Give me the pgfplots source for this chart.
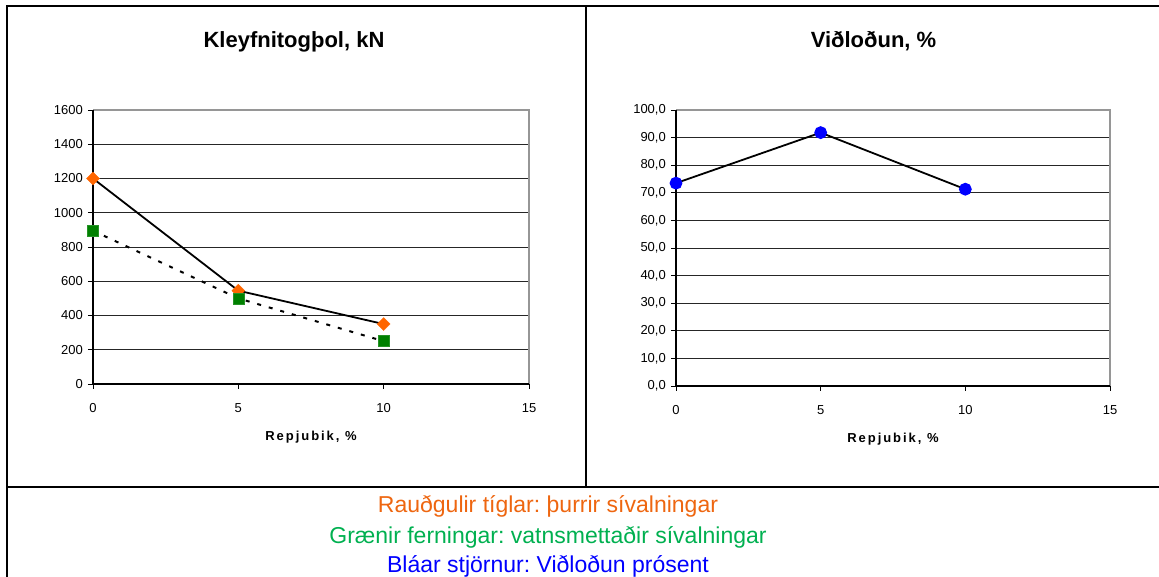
\documentclass[border=0pt]{standalone}
\usepackage{fontspec}
\setmainfont{Liberation Sans}
\newfontfamily\spacedfont[LetterSpace=15]{Liberation Sans}
\usepackage{pgfplots}
\pgfplotsset{compat=1.18}
\frenchspacing

\definecolor{dryorange}{RGB}{255,102,0}
\definecolor{wetgreen}{RGB}{0,128,0}
\definecolor{legorange}{RGB}{238,102,16}
\definecolor{leggreen}{RGB}{0,176,80}
\definecolor{bondblue}{RGB}{0,0,255}
\definecolor{framegray}{RGB}{150,150,150}

\pgfplotsset{
  panel/.style={
    scale only axis,
    anchor=south west,
    clip=false,
    xmin=0, xmax=15, xtick={0,5,10,15},
    ymin=0,
    ymajorgrids,
    grid style={black!85, line width=0.9bp},
    axis line style={draw=none},
    tick pos=left, tick align=outside,
    major tick length=5bp,
    tick style={black, line width=0.9bp},
    /pgf/number format/assume math mode=true,
    ticklabel style={font=\fontsize{13bp}{15bp}\selectfont},
    xticklabel style={anchor=base, inner sep=0pt, yshift=-24bp},
    yticklabel style={anchor=east, inner sep=0pt, xshift=-5bp},
    title style={at={(axis description cs:0.5,1)}, anchor=base, yshift=57bp,
      font=\bfseries\fontsize{22bp}{26bp}\selectfont},
    xlabel style={at={(axis description cs:0.5,0)}, anchor=base, yshift=-57bp,
      font=\spacedfont\bfseries\fontsize{13bp}{15bp}\selectfont},
    xlabel={Repjubik, \%},
  },
}

\begin{document}
\begin{tikzpicture}
\useasboundingbox (0,0) rectangle (1159bp,577bp);

% table rules around the two panels and the caption row
\draw[line width=2bp] (7bp,0) -- (7bp,571bp) -- (1159bp,571bp);
\draw[line width=2bp] (7bp,90bp) -- (1159bp,90bp);
\draw[line width=2bp] (585.5bp,90bp) -- (585.5bp,571bp);

% tensile strength, kN
\begin{axis}[panel,
  at={(93bp,193bp)}, width=436bp, height=274bp,
  ymax=1600, ytick={0,200,...,1600},
  /pgf/number format/set thousands separator={},
  title={Kleyfnitogþol, kN}, title style={xshift=-17bp},
]
\draw[framegray, line width=1.5bp] (rel axis cs:0,1) -- (rel axis cs:1,1) -- (rel axis cs:1,0);
\draw[black, line width=1.2bp] (rel axis cs:0,1) -- (rel axis cs:0,0) -- (rel axis cs:1,0);
% dry cylinders
\addplot[black, line width=1.8bp, mark=square*, mark size=4.6bp,
  mark options={solid, rotate=45, fill=dryorange, draw=dryorange, line width=0.3bp}]
  coordinates {(0,1200) (5,545) (10,350)};
% water-saturated cylinders
\addplot[black, line width=2bp, dash pattern=on 4bp off 8bp, mark=square*, mark size=5.5bp,
  mark options={solid, fill=wetgreen, draw=wetgreen!85!white, line width=0.5bp}]
  coordinates {(0,895) (5,500) (10,250)};
\end{axis}

% bond, %
\begin{axis}[panel,
  at={(676bp,191bp)}, width=434bp, height=276bp,
  ymax=100, ytick={0,10,...,100},
  yticklabel style={/pgf/number format/.cd, fixed, fixed zerofill, precision=1, use comma},
  title={Viðloðun, \%}, title style={xshift=-19.5bp},
]
\draw[framegray, line width=1.5bp] (rel axis cs:0,1) -- (rel axis cs:1,1) -- (rel axis cs:1,0);
\draw[black, line width=1.2bp] (rel axis cs:0,1) -- (rel axis cs:0,0) -- (rel axis cs:1,0);
\addplot[black, line width=1.8bp, mark=*, mark size=5.5bp,
  mark options={fill=bondblue, draw=bondblue}]
  coordinates {(0,73.5) (5,91.8) (10,71.3)};
\end{axis}

% caption row
\begin{scope}[every node/.style={anchor=base, inner sep=0pt, font=\fontsize{23bp}{28bp}\selectfont}]
\node[text=legorange] at (548bp,64bp) {Rauðgulir tíglar: þurrir sívalningar};
\node[text=leggreen]  at (548bp,34bp) {Grænir ferningar: vatnsmettaðir sívalningar};
\node[text=bondblue]  at (548bp,5bp)  {Bláar stjörnur: Viðloðun prósent};
\end{scope}
\end{tikzpicture}
\end{document}
